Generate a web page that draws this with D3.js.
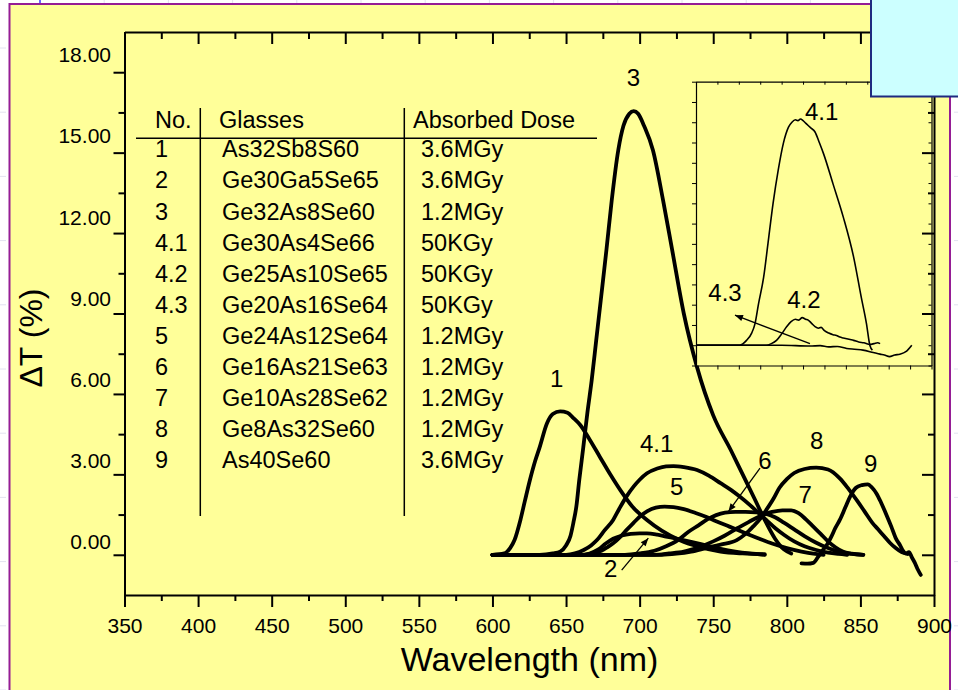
<!DOCTYPE html>
<html>
<head>
<meta charset="utf-8">
<script src="https://cdn.jsdelivr.net/npm/d3@7"></script>
<style>
html, body { margin: 0; padding: 0; background: #ffffff; overflow: hidden; }
svg { display: block; font-family: "Liberation Sans", Arial, Helvetica, sans-serif; }
</style>
</head>
<body>
<svg id="chart" width="958" height="690"></svg>
<script>
// ---- Radiation-induced transmission change, ΔT (%), vs wavelength (nm) ----
const curve1 = [[600,0],[608,0.05],[612,0.25],[615,0.55],[619,1.3],[622,2.0],[625.5,2.8],[629,3.5],[632,4.0],[637,4.9],[641,5.25],[646,5.35],[651,5.3],[655,5.1],[659.5,4.85],[666,4.3],[673,3.65],[680,3.0],[687,2.4],[695,1.8],[705,1.3],[715,0.9],[727,0.55],[740,0.3],[755,0.12],[770,0.05],[785,0.02]];
const curve2 = [[600,0],[660,0],[666,0.05],[672,0.2],[677,0.42],[682,0.6],[688,0.72],[694,0.78],[700,0.8],[705,0.8],[712,0.75],[718,0.68],[725,0.6],[735,0.48],[745,0.35],[755,0.22],[765,0.12],[775,0.05],[785,0.0]];
const curve3 = [[600,0],[632,0],[641,0.05],[646,0.12],[650,0.35],[653,0.7],[655,1.2],[657,1.8],[659,2.8],[661.7,4.0],[664.5,5.3],[667.4,6.5],[670.5,8.0],[673.6,9.5],[677.5,11.4],[681,13.2],[685.5,15.1],[689,16.0],[693,16.45],[696,16.55],[699,16.45],[703,16.0],[709,15.1],[716,13.2],[722,11.4],[730,9.0],[739,7.0],[750,5.2],[762,3.9],[770,3.0],[778,2.1],[785,1.3],[792,0.6],[798,0.2],[803,0.05]];
const curve41 = [[600,0],[650,0],[656,0.05],[662,0.18],[667,0.35],[671,0.55],[676,0.9],[682,1.3],[686,1.7],[691,2.17],[696,2.55],[700,2.8],[705,3.04],[712,3.22],[718,3.3],[723,3.31],[730,3.27],[739,3.16],[747,2.95],[755,2.67],[762,2.42],[768,2.17],[775,1.85],[780,1.6],[786,1.3],[792,1.0],[798,0.75],[805,0.5],[812,0.32],[820,0.18],[828,0.08],[835,0.03],[841,0.0]];
const curve5 = [[600,0],[662,0],[668,0.05],[674,0.15],[678,0.28],[682,0.43],[687,0.68],[691,0.92],[696,1.2],[700,1.42],[705,1.62],[711,1.76],[717,1.8],[723,1.78],[730,1.7],[738,1.56],[745,1.42],[752,1.25],[761,1.05],[770,0.85],[780,0.63],[790,0.42],[800,0.25],[810,0.12],[818,0.04],[825,0.0]];
const curve6 = [[600,0],[690,0],[700,0.05],[710,0.15],[718,0.32],[726,0.55],[733,0.85],[740,1.1],[746,1.32],[752,1.48],[758,1.57],[765,1.6],[772,1.6],[779,1.58],[786,1.52],[792,1.4],[798,1.2],[805,0.95],[812,0.7],[820,0.45],[828,0.25],[836,0.1],[844,0.03],[852,0.0]];
const curve7 = [[600,0],[710,0],[720,0.05],[730,0.12],[740,0.28],[750,0.5],[758,0.72],[766,0.98],[774,1.22],[782,1.45],[790,1.6],[797,1.66],[803,1.66],[808,1.55],[813,1.32],[818,1.05],[823,0.78],[828,0.5],[833,0.28],[838,0.12],[844,0.04],[852,0.0]];
const curve8 = [[600,0],[715,0],[725,0.04],[735,0.12],[745,0.25],[755,0.38],[766,0.55],[772,0.78],[777,1.05],[782,1.35],[786,1.67],[791,2.1],[795,2.5],[800,2.82],[805,3.05],[812,3.2],[820,3.25],[828,3.18],[836,2.85],[842,2.45],[848,2.0],[853,1.6],[858,1.2],[862,0.95],[866,0.7],[870,0.45],[874,0.25],[878,0.1],[882,0.03]];
const curve9 = [[810,-0.32],[814,-0.33],[818,-0.3],[821,-0.1],[824,0.15],[827,0.35],[830,0.65],[833,1.0],[836,1.3],[840,1.8],[843,2.17],[847,2.5],[851,2.6],[855,2.63],[858,2.5],[861,2.28],[864,1.95],[868,1.45],[871,1.05],[874,0.62],[877,0.35],[879,0.15],[881,0.05],[883,0.1],[885,-0.1],[887,-0.3],[889,-0.55],[891,-0.75]];

// curve labels, in data units
const curveLabels = [
  {t:"3",   nm:695.7, v:17.8},
  {t:"1",   nm:643.7, v:6.58},
  {t:"4.1", nm:711.6, v:4.16},
  {t:"5",   nm:725.2, v:2.57},
  {t:"6",   nm:785.2, v:3.54},
  {t:"7",   nm:812.4, v:2.27},
  {t:"8",   nm:820.3, v:4.28},
  {t:"9",   nm:857.0, v:3.41},
  {t:"2",   nm:680.3, v:-0.5}
];
const curveArrows = [
  {from:[687.8,-0.57], to:[705.9,0.62]},
  {from:[781.8,3.23],  to:[760.3,1.61]}
];

// inset: samples 4.1 / 4.2 / 4.3 on their own scale
const inset41 = [[600,0],[651,0],[659,0.06],[665,0.15],[669,0.27],[673,0.51],[679,0.84],[684,1.25],[690,1.75],[696,2.16],[702,2.49],[708,2.69],[712,2.75],[716,2.78],[719,2.77],[722,2.79],[725,2.77],[728,2.74],[731,2.71],[734,2.68],[739,2.63],[744,2.5],[749,2.36],[760,1.99],[772,1.58],[784,1.09],[793,0.59],[799,0.27],[803,0.0],[806,-0.06]];
const inset42 = [[600,0],[682,0],[688,0.02],[694,0.06],[700,0.14],[706,0.23],[711,0.29],[716,0.32],[720,0.31],[724,0.34],[728,0.32],[731,0.31],[735,0.27],[739,0.23],[743,0.21],[746,0.22],[750,0.18],[755,0.15],[760,0.13],[764,0.12],[768,0.1],[772,0.09],[776,0.08],[780,0.07],[784,0.06],[790,0.04],[796,0.03],[803,0.01],[808,0.02],[812,0.03],[815,0.02]];
const inset43 = [[600,0],[700,0],[733,-0.01],[745,-0.005],[755,-0.02],[765,-0.015],[776,-0.04],[785,-0.05],[795,-0.06],[807,-0.09],[815,-0.11],[820,-0.12],[826,-0.14],[832,-0.12],[838,-0.11],[845,-0.08],[852,0.0]];
const insetLabels = [
  {t:"4.1", nm:746.8, v:2.88},
  {t:"4.2", nm:726.0, v:0.56},
  {t:"4.3", nm:633.9, v:0.65}
];
const insetArrow = {from:[733.1,0.02], to:[645.5,0.37]};

// axis ticks
const xMajor = [350,400,450,500,550,600,650,700,750,800,850,900];
const xMinor = [375,425,475,525,575,625,675,725,775,825,875];
const yMajor = [0,3,6,9,12,15,18];
const yMinor = [1.5,4.5,7.5,10.5,13.5,16.5];
const insetXTicks = [600,625,650,675,700,725,750,775,800,825,850,875];
const insetYTicks = [-0.25,0,0.25,0.5,0.75,1,1.25,1.5,1.75,2,2.25,2.5,2.75,3,3.25];

// table
const tableHeader = ["No.","Glasses","Absorbed Dose"];
const tableNo = ["1","2","3","4.1","4.2","4.3","5","6","7","8","9"];
const tableGlass = ["As32Sb8S60","Ge30Ga5Se65","Ge32As8Se60","Ge30As4Se66","Ge25As10Se65","Ge20As16Se64","Ge24As12Se64","Ge16As21Se63","Ge10As28Se62","Ge8As32Se60","As40Se60"];
const tableDose = ["3.6MGy","3.6MGy","1.2MGy","50KGy","50KGy","50KGy","1.2MGy","1.2MGy","1.2MGy","1.2MGy","3.6MGy"];

const svg = d3.select("#chart");

// slide background grid
const grid = svg.append("g").attr("stroke", "#e2e2f0").attr("stroke-width", 1);
grid.selectAll("line.v").data(d3.range(0, 15)).join("line")
  .attr("x1", i => 40 + i * 64.2).attr("x2", i => 40 + i * 64.2)
  .attr("y1", 0).attr("y2", 690).attr("stroke-dasharray", "6 3");
grid.selectAll("line.h").data(d3.range(0, 11)).join("line")
  .attr("y1", i => 48 + i * 64.2).attr("y2", i => 48 + i * 64.2)
  .attr("x1", 0).attr("x2", 958).attr("stroke-dasharray", "6 3");
svg.append("line").attr("x1", 40).attr("x2", 40).attr("y1", 0).attr("y2", 4)
  .attr("stroke", "#3d3dff").attr("stroke-width", 1.5);

// yellow panel
svg.append("rect").attr("x", 9.5).attr("y", 4).attr("width", 940.5).attr("height", 700)
  .attr("fill", "#ffff99").attr("stroke", "#951d95").attr("stroke-width", 2);

// scales
const x = d3.scaleLinear().domain([350, 900]).range([124.5, 934]);
const y = d3.scaleLinear().domain([-1.5, 19.5]).range([595, 32]);
const yLabelPos = d3.scaleLinear().domain([0, 18]).range([542, 55]);

const line = d3.line().x(d => x(d[0])).y(d => y(d[1])).curve(d3.curveMonotoneX);

// arrow marker
const defs = svg.append("defs");
defs.append("marker").attr("id", "arrowhead")
  .attr("viewBox", "0 0 10 10").attr("refX", 10).attr("refY", 5)
  .attr("markerWidth", 10).attr("markerHeight", 8)
  .attr("markerUnits", "userSpaceOnUse").attr("orient", "auto")
  .append("path").attr("d", "M0,1 L10,5 L0,9 Z").attr("fill", "#000");

// table
const tbl = svg.append("g").attr("font-size", "23.5px").attr("fill", "#000");
const rowY = d3.scaleLinear().domain([0, 10]).range([157.3, 468.3]);
tbl.append("text").attr("x", 155).attr("y", 127.5).text(tableHeader[0]);
tbl.append("text").attr("x", 219).attr("y", 127.5).text(tableHeader[1]);
tbl.append("text").attr("x", 413).attr("y", 127.5).text(tableHeader[2]);
tbl.selectAll("text.no").data(tableNo).join("text").attr("class", "no")
  .attr("x", 155).attr("y", (d, i) => rowY(i)).text(d => d);
tbl.selectAll("text.gl").data(tableGlass).join("text").attr("class", "gl")
  .attr("x", 222).attr("y", (d, i) => rowY(i)).text(d => d);
tbl.selectAll("text.ds").data(tableDose).join("text").attr("class", "ds")
  .attr("x", 421).attr("y", (d, i) => rowY(i)).text(d => d);
const tblLines = svg.append("g").attr("stroke", "#000").attr("stroke-width", 1.5);
tblLines.append("line").attr("x1", 136).attr("x2", 597).attr("y1", 138.3).attr("y2", 138.3);
tblLines.append("line").attr("x1", 200.3).attr("x2", 200.3).attr("y1", 108).attr("y2", 516);
tblLines.append("line").attr("x1", 404.3).attr("x2", 404.3).attr("y1", 108).attr("y2", 516);

// main curves
const mainCurves = [curve1, curve2, curve3, curve41, curve5, curve6, curve7, curve8, curve9];
svg.append("g").selectAll("path").data(mainCurves).join("path")
  .attr("d", line).attr("fill", "none").attr("stroke", "#000")
  .attr("stroke-width", 3.8).attr("stroke-linejoin", "round").attr("stroke-linecap", "round");

// curve labels and pointers
svg.append("g").attr("font-size", "24px").attr("text-anchor", "middle")
  .selectAll("text").data(curveLabels).join("text")
  .attr("x", d => x(d.nm)).attr("y", d => y(d.v)).attr("dy", "0.36em").text(d => d.t);
svg.append("g").selectAll("line").data(curveArrows).join("line")
  .attr("x1", d => x(d.from[0])).attr("y1", d => y(d.from[1]))
  .attr("x2", d => x(d.to[0])).attr("y2", d => y(d.to[1]))
  .attr("stroke", "#000").attr("stroke-width", 1.3).attr("marker-end", "url(#arrowhead)");

// inset
const ix = d3.scaleLinear().domain([600, 875]).range([696, 931.5]);
const iy = d3.scaleLinear().domain([-0.25, 3.25]).range([365.5, 81.7]);
const iline = d3.line().x(d => ix(d[0])).y(d => iy(d[1])).curve(d3.curveMonotoneX);
const inset = svg.append("g");
inset.append("rect").attr("x", 696).attr("y", 81.7).attr("width", 235.5).attr("height", 283.8)
  .attr("fill", "#ffff99");
const insetAxis = (g, axis) => {
  g.call(axis);
  g.select(".domain").attr("stroke", "#000").attr("stroke-width", 1.2);
  g.selectAll(".tick line").attr("stroke", "#000").attr("stroke-width", 1);
  g.selectAll(".tick text").remove();
};
inset.append("g").attr("transform", "translate(0,365.5)")
  .call(insetAxis, d3.axisBottom(ix).tickValues(insetXTicks).tickSize(4).tickSizeOuter(0));
inset.append("g").attr("transform", "translate(0,81.7)")
  .call(insetAxis, d3.axisTop(ix).tickValues(insetXTicks).tickSize(-3).tickSizeOuter(0));
inset.append("g").attr("transform", "translate(696,0)")
  .call(insetAxis, d3.axisLeft(iy).tickValues(insetYTicks).tickSize(4).tickSizeOuter(0));
inset.append("g").attr("transform", "translate(931.5,0)")
  .call(insetAxis, d3.axisRight(iy).tickValues(insetYTicks).tickSize(-3).tickSizeOuter(0));
inset.append("g").selectAll("path").data([inset43, inset42, inset41]).join("path")
  .attr("d", iline).attr("fill", "none").attr("stroke", "#000")
  .attr("stroke-width", 1.6).attr("stroke-linejoin", "round");
inset.append("g").attr("font-size", "24px").attr("text-anchor", "middle")
  .selectAll("text").data(insetLabels).join("text")
  .attr("x", d => ix(d.nm)).attr("y", d => iy(d.v)).attr("dy", "0.36em").text(d => d.t);
inset.append("line")
  .attr("x1", ix(insetArrow.from[0])).attr("y1", iy(insetArrow.from[1]))
  .attr("x2", ix(insetArrow.to[0])).attr("y2", iy(insetArrow.to[1]))
  .attr("stroke", "#000").attr("stroke-width", 1.3).attr("marker-end", "url(#arrowhead)");

// main axes
const styleAxis = (g) => {
  g.select(".domain").attr("stroke", "#000").attr("stroke-width", 2);
  g.selectAll(".tick line").attr("stroke", "#000").attr("stroke-width", 2);
};
const axes = svg.append("g");
axes.append("g").attr("transform", "translate(0,595)")
  .call(d3.axisBottom(x).tickValues(xMajor).tickSize(12).tickSizeOuter(0).tickPadding(11))
  .call(styleAxis)
  .call(g => g.selectAll(".tick text").attr("font-size", "21px").attr("fill", "#000")
    .attr("font-family", "Liberation Sans, Arial, sans-serif"));
axes.append("g").attr("transform", "translate(0,595)")
  .call(d3.axisBottom(x).tickValues(xMinor).tickSize(6).tickFormat(""))
  .call(styleAxis).call(g => g.select(".domain").remove());
axes.append("g").attr("transform", "translate(0,32)")
  .call(d3.axisTop(x).tickValues(xMajor).tickSize(-12).tickSizeOuter(0).tickFormat(""))
  .call(styleAxis);
axes.append("g").attr("transform", "translate(0,32)")
  .call(d3.axisTop(x).tickValues(xMinor).tickSize(-7).tickFormat(""))
  .call(styleAxis).call(g => g.select(".domain").remove());
axes.append("g").attr("transform", "translate(124.5,0)")
  .call(d3.axisLeft(y).tickValues(yMajor).tickSize(11).tickSizeOuter(0).tickPadding(2.5)
    .tickFormat(d3.format(".2f")))
  .call(styleAxis)
  .call(g => g.selectAll(".tick text").attr("font-size", "21px").attr("fill", "#000")
    .attr("font-family", "Liberation Sans, Arial, sans-serif")
    .attr("y", d => yLabelPos(d) - y(d)));
axes.append("g").attr("transform", "translate(124.5,0)")
  .call(d3.axisLeft(y).tickValues(yMinor).tickSize(6).tickFormat(""))
  .call(styleAxis).call(g => g.select(".domain").remove());
axes.append("g").attr("transform", "translate(934,0)")
  .call(d3.axisRight(y).tickValues(yMajor).tickSize(-12).tickSizeOuter(0).tickFormat(""))
  .call(styleAxis);
axes.append("g").attr("transform", "translate(934,0)")
  .call(d3.axisRight(y).tickValues(yMinor).tickSize(-6).tickFormat(""))
  .call(styleAxis).call(g => g.select(".domain").remove());

// axis titles
svg.append("text").attr("x", 529.5).attr("y", 671).attr("text-anchor", "middle")
  .attr("font-size", "34px").text("Wavelength (nm)");
svg.append("text").attr("transform", "translate(41.5,338) rotate(-90)")
  .attr("text-anchor", "middle").attr("font-size", "32px").text("ΔT (%)");

// light blue box at the top right corner
svg.append("rect").attr("x", 871).attr("y", -3).attr("width", 100).attr("height", 99.5)
  .attr("fill", "#ccffff").attr("stroke", "#1f2a80").attr("stroke-width", 2);
</script>
</body>
</html>
